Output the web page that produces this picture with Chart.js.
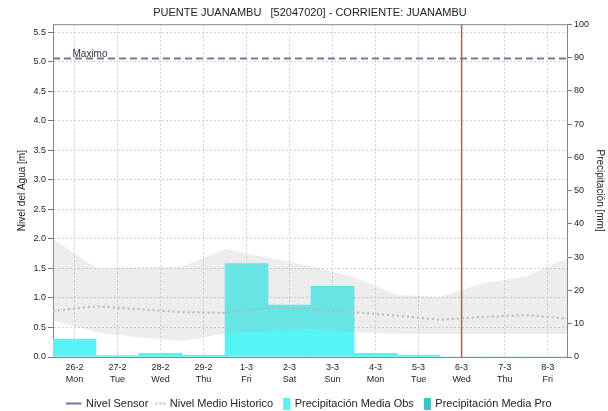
<!DOCTYPE html>
<html>
<head>
<meta charset="utf-8">
<script src="https://cdn.jsdelivr.net/npm/chart.js@4.4.1/dist/chart.umd.min.js"></script>
<style>
  html, body { margin: 0; padding: 0; background: #fff; }
</style>
</head>
<body>
<canvas id="nivel-chart" width="608" height="411"></canvas>
<script>
// Nivel y precipitacion - PUENTE JUANAMBU
var fechas = ["26-2", "27-2", "28-2", "29-2", "1-3", "2-3", "3-3", "4-3", "5-3", "6-3", "7-3", "8-3"];
var dias = ["Mon", "Tue", "Wed", "Thu", "Fri", "Sat", "Sun", "Mon", "Tue", "Wed", "Thu", "Fri"];

// precipitacion media [mm], un valor por dia
var precipObs = [5.4, 0.4, 1.1, 0.5, 28.1, 15.6, 21.2, 1.1, 0.6, 0, 0, 0];
var precipPro = [];
var nivelSensor = [];

// nivel historico [m], en el limite de cada dia
var histPos = [-0.5, 0.5, 1.5, 2.5, 3.5, 4.5, 5.5, 6.5, 7.5, 8.5, 9.5, 10.5, 11.5];
var histMax = [2.0, 1.51, 1.52, 1.53, 1.83, 1.68, 1.54, 1.35, 1.05, 1.02, 1.25, 1.37, 1.69];
var histMin = [0.62, 0.42, 0.33, 0.27, 0.40, 0.44, 0.48, 0.42, 0.40, 0.39, 0.39, 0.39, 0.39];
var histMedio = [0.78, 0.86, 0.81, 0.76, 0.75, 0.83, 0.81, 0.76, 0.70, 0.63, 0.68, 0.71, 0.65];

var nivelMaximo = 5.06;
var hoy = 9; // 6-3
var ejeX = [-0.5, 11.45];
var ejeNivel = [0, 5.64];
var ejePrecip = [0, 100];

Chart.defaults.font.family = '"Liberation Sans", Arial, sans-serif';
Chart.defaults.color = '#222';

function puntos(xs, ys) {
    return ys.map(function (v, i) { return { x: xs[i], y: v }; });
}
function porDia(ys) {
    return ys.map(function (v, i) { return { x: i, y: v }; });
}

// muestras para la leyenda
function muestra(dibujo) {
    var c = document.createElement('canvas');
    c.width = 16;
    c.height = 12;
    dibujo(c.getContext('2d'));
    return c;
}
var muestras = {
    "Nivel Sensor": muestra(function (g) {
        g.strokeStyle = '#4a3f9f'; g.lineWidth = 1.5;
        g.beginPath(); g.moveTo(0, 6); g.lineTo(15, 6); g.stroke();
    }),
    "Nivel Medio Historico": muestra(function (g) {
        g.fillStyle = '#bdbdbd';
        for (var i = 5; i < 16; i += 4) g.fillRect(i, 5, 2, 2);
    }),
    "Precipitación Media Obs": muestra(function (g) {
        g.fillStyle = '#56f4f4'; g.fillRect(8, 0, 7, 12);
    }),
    "Precipitación Media Pro": muestra(function (g) {
        g.fillStyle = '#3cc4c4'; g.fillRect(8, 0, 7, 12);
    })
};

var rotulos = {
    id: 'rotulos',
    afterDatasetsDraw: function (chart) {
        var ctx = chart.ctx, a = chart.chartArea;
        ctx.save();
        ctx.strokeStyle = '#888';
        ctx.lineWidth = 1;
        ctx.beginPath();
        ctx.moveTo(a.left, a.top + 0.5);
        ctx.lineTo(a.right, a.top + 0.5);
        ctx.stroke();
        ctx.fillStyle = '#333';
        ctx.font = '10px "Liberation Sans", Arial, sans-serif';
        ctx.textBaseline = 'bottom';
        ctx.fillText('Maximo', chart.scales.x.getPixelForValue(0) - 2, chart.scales.y.getPixelForValue(nivelMaximo) + 1);
        ctx.restore();
    }
};

var chart = new Chart(document.getElementById('nivel-chart'), {
    type: 'bar',
    data: {
        datasets: [
            {
                type: 'line', label: 'Nivel Sensor', data: porDia(nivelSensor), yAxisID: 'y',
                borderColor: '#4a3f9f', borderWidth: 1.5, pointRadius: 0, order: 0
            },
            {
                type: 'line', label: 'Nivel Medio Historico', data: puntos(histPos, histMedio), yAxisID: 'y',
                borderColor: '#b8b8b8', borderWidth: 2, borderDash: [2, 3], pointRadius: 0, fill: false, order: 0
            },
            {
                type: 'bar', label: 'Precipitación Media Obs', data: porDia(precipObs), yAxisID: 'y2',
                backgroundColor: '#56f4f4', barPercentage: 1, categoryPercentage: 1, grouped: false, order: 2
            },
            {
                type: 'bar', label: 'Precipitación Media Pro', data: porDia(precipPro), yAxisID: 'y2',
                backgroundColor: '#3cc4c4', barPercentage: 1, categoryPercentage: 1, grouped: false, order: 2
            },
            {
                type: 'line', label: 'min', data: puntos(histPos, histMin), yAxisID: 'y',
                borderWidth: 0, borderColor: 'rgba(0,0,0,0)', pointRadius: 0, fill: false, order: 1
            },
            {
                type: 'line', label: 'max', data: puntos(histPos, histMax), yAxisID: 'y',
                borderWidth: 0, borderColor: 'rgba(0,0,0,0)', pointRadius: 0,
                fill: '-1', backgroundColor: 'rgba(172,172,172,0.22)', order: 1
            },
            {
                type: 'line', label: 'Maximo', data: puntos(ejeX, [nivelMaximo, nivelMaximo]), yAxisID: 'y',
                borderColor: '#6f7aa0', borderWidth: 2, borderDash: [7, 4], pointRadius: 0, fill: false, order: 0
            },
            {
                type: 'line', label: 'hoy', data: puntos([hoy, hoy], ejePrecip), yAxisID: 'y2',
                borderColor: '#cc4f5c', borderWidth: 1.5, pointRadius: 0, fill: false, order: 0
            }
        ]
    },
    options: {
        responsive: false,
        animation: false,
        layout: { padding: { top: 0, left: 0, right: 0, bottom: -8 } },
        scales: {
            x: {
                type: 'linear', min: ejeX[0], max: ejeX[1], offset: false,
                afterBuildTicks: function (s) {
                    s.ticks = fechas.map(function (f, i) { return { value: i }; });
                },
                afterFit: function (s) { s.height = 37; },
                ticks: {
                    autoSkip: false, maxRotation: 0, padding: 5, font: { size: 9, lineHeight: 1.33 }, color: '#222',
                    callback: function (v) { return [fechas[v], dias[v]]; }
                },
                grid: { color: '#d2d2d2', drawTicks: false, offset: false },
                border: { color: '#888', dash: [2, 2] }
            },
            y: {
                position: 'left', min: ejeNivel[0], max: ejeNivel[1],
                afterFit: function (s) { s.width = 53; },
                ticks: {
                    stepSize: 0.5, includeBounds: false, padding: 2, font: { size: 9 }, color: '#222',
                    callback: function (v) { return v.toFixed(1); }
                },
                grid: { color: '#d2d2d2', tickLength: 5, tickColor: '#777' },
                border: { color: '#888', dash: [2, 2] },
                title: { display: true, text: 'Nivel del Agua [m]', font: { size: 10 }, color: '#222', padding: { top: 16, bottom: 0 } }
            },
            y2: {
                position: 'right', min: ejePrecip[0], max: ejePrecip[1],
                afterFit: function (s) { s.width = 41; },
                ticks: { stepSize: 10, padding: 2, font: { size: 9 }, color: '#222' },
                grid: { drawOnChartArea: false, tickLength: 5, tickColor: '#777' },
                border: { color: '#888' },
                title: { display: true, text: 'Precipitación [mm]', font: { size: 10 }, color: '#222', padding: { top: 2, bottom: 0 } }
            }
        },
        plugins: {
            title: {
                display: true, fullSize: false,
                text: 'PUENTE JUANAMBU   [52047020] - CORRIENTE: JUANAMBU',
                font: { size: 11, weight: 'normal' }, color: '#222',
                padding: { top: 6, bottom: 5 }
            },
            legend: {
                position: 'bottom', fullSize: false,
                labels: {
                    usePointStyle: true, pointStyleWidth: 12, boxHeight: 11, padding: 4,
                    font: { size: 11 }, color: '#222',
                    generateLabels: function (c) {
                        var items = [];
                        c.data.datasets.forEach(function (ds, i) {
                            if (muestras[ds.label]) {
                                items.push({ text: ds.label, pointStyle: muestras[ds.label], fillStyle: 'rgba(0,0,0,0)',
                                    strokeStyle: 'rgba(0,0,0,0)', lineWidth: 0, hidden: false, datasetIndex: i, fontColor: '#222' });
                            }
                        });
                        return items;
                    }
                }
            },
            tooltip: { enabled: false }
        }
    },
    plugins: [rotulos]
});
</script>
</body>
</html>
